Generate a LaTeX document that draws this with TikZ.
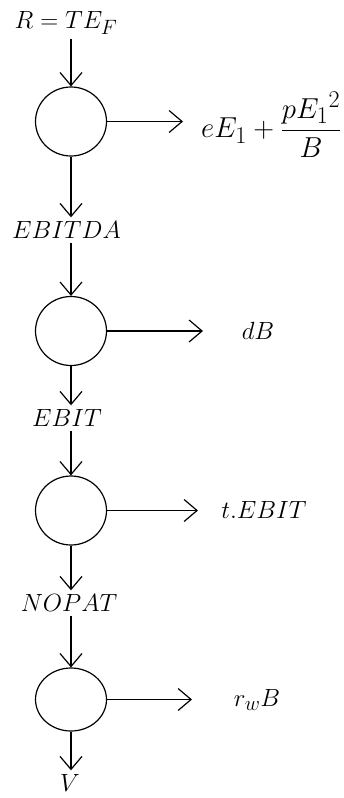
\documentclass[tikz,border=0pt]{standalone}
\usetikzlibrary{arrows.meta,shapes.geometric}
\begin{document}
\begin{tikzpicture}[x=1pt,y=-1pt,
  lab/.style={inner sep=4pt, font=\Huge},
  junction/.style={draw, ellipse, inner sep=0pt, minimum width=71pt, minimum height=69pt, line width=1.2pt},
  arr/.style={line width=1.2pt, -{Straight Barb[length=13pt,width=22pt,line width=1.2pt]}}]
\useasboundingbox (0,0) rectangle (343,798);

% main flow: labels and junctions
\node[lab] (R) at (66,23) {$R = TE_F$};
\node[junction] (c1) at (71,121.5) {};
\node[lab] (ebitda) at (66.5,230) {$EBITDA$};
\node[junction] (c2) at (71,331) {};
\node[lab] (ebit) at (67,418) {$EBIT$};
\node[junction] (c3) at (71,510.5) {};
\node[lab] (nopat) at (69,603) {$NOPAT$};
\node[junction, minimum height=63pt] (c4) at (71,699.5) {};
\node[lab] (V) at (70,783) {$V$};

% outflows
\coordinate (o1) at (183,121.5);
\coordinate (o2) at (203,331);
\coordinate (o3) at (198,510.5);
\coordinate (o4) at (192,699.5);
\node[lab, anchor=west, inner sep=0pt, scale=1.16, transform shape] (f1) at (201,125) {$\displaystyle eE_1+\frac{pE_1{}^2}{B}$};
\node[lab] (f2) at (258,331) {$dB$};
\node[lab] (f3) at (264,510) {$t.EBIT$};
\node[lab] (f4) at (257,700) {$r_wB$};

% connectors
\draw[arr] (R.south -| c1.north) -- (c1.north);
\draw[arr] (c1.south) -- (c1.south |- ebitda.north);
\draw[arr] (ebitda.south -| c2.north) -- (c2.north);
\draw[arr] (c2.south) -- (c2.south |- ebit.north);
\draw[arr] (ebit.south -| c3.north) -- (c3.north);
\draw[arr] (c3.south) -- (c3.south |- nopat.north);
\draw[arr] (nopat.south -| c4.north) -- (c4.north);
\draw[arr] (c4.south) -- (c4.south |- V.north);

\draw[arr] (c1.east) -- (o1);
\draw[arr] (c2.east) -- (o2);
\draw[arr] (c3.east) -- (o3);
\draw[arr] (c4.east) -- (o4);
\end{tikzpicture}
\end{document}
